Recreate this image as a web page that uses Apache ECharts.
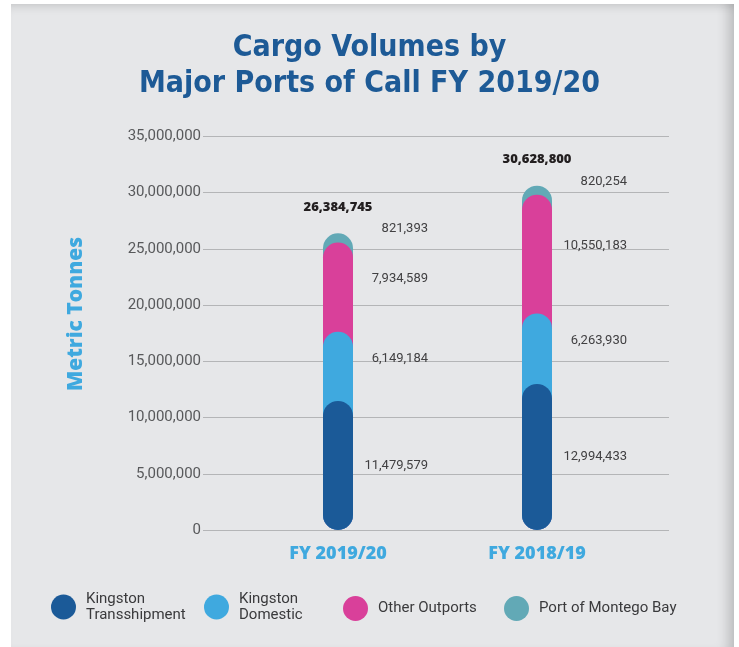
<!DOCTYPE html>
<html>
<head>
<meta charset="utf-8">
<script src="https://cdn.jsdelivr.net/npm/echarts@6/dist/echarts.min.js"></script>
<style>
  html, body { margin: 0; padding: 0; background: #ffffff; }
  #panel {
    position: absolute; left: 11px; top: 4px; width: 723px; height: 643px;
    background: #e6e7e9;
    box-shadow: inset 0 9px 8px -6px rgba(0,0,0,0.12), inset -14px 0 12px -8px rgba(0,0,0,0.18);
  }
  #chart { position: absolute; left: 0; top: 0; width: 739px; height: 647px; }
</style>
</head>
<body>
<div id="panel"></div>
<div id="chart"></div>
<script>
// categories (fiscal years)
const years = ['FY 2019/20', 'FY 2018/19'];
// cargo volumes in metric tonnes, per port group
const portNames = ['Kingston\nTransshipment', 'Kingston\nDomestic', 'Other Outports', 'Port of Montego Bay'];
const kingstonTrans = [11479579, 12994433];
const kingstonDom = [6149184, 6263930];
const otherOutports = [7934589, 10550183];
const montegoBay = [821393, 820254];
const yTicks = [0, 5000000, 10000000, 15000000, 20000000, 25000000, 30000000, 35000000];

const colors = ['#1b5a98', '#3fa9df', '#d9409a', '#62a9b6'];
const values = [kingstonTrans, kingstonDom, otherOutports, montegoBay];

// running totals, so each rounded bar starts at zero and the lower ones sit on top
const cumulative = [];
values.forEach((arr, i) => {
  cumulative.push(arr.map((v, j) => (i ? cumulative[i - 1][j] : 0) + v));
});
const totals = cumulative[cumulative.length - 1];

const fmt = n => n.toLocaleString('en-US');
const boldFont = "'Open Sans', 'Roboto', sans-serif";

const chart = echarts.init(document.getElementById('chart'), null, { renderer: 'canvas' });

let series = [];
// visible rounded bars
values.forEach((arr, i) => {
  series.push({
    name: portNames[i],
    type: 'bar',
    xAxisIndex: 1,
    yAxisIndex: 1,
    data: cumulative[i],
    barWidth: 30,
    barGap: '-100%',
    z: 10 - i,
    itemStyle: { color: colors[i], borderRadius: 15 },
    label: i === values.length - 1 ? {
      show: true,
      position: 'top',
      distance: 20,
      formatter: p => fmt(totals[p.dataIndex]),
      color: '#231f20',
      fontFamily: boldFont,
      fontWeight: 800,
      fontSize: 13
    } : { show: false },
    animation: false
  });
});
// invisible stack that only carries the segment labels
values.forEach((arr, i) => {
  series.push({
    name: 'lbl' + i,
    type: 'bar',
    xAxisIndex: 1,
    yAxisIndex: 1,
    stack: 'labels',
    data: arr,
    barWidth: 30,
    z: 1,
    itemStyle: { color: 'rgba(0,0,0,0)' },
    label: {
      show: true,
      position: 'right',
      distance: 75,
      align: 'right',
      offset: i === values.length - 1 ? [0, -9] : (i === 0 ? [0, 0] : [0, -8]),
      formatter: p => fmt(p.value),
      color: '#414042',
      fontFamily: 'Roboto',
      fontSize: 13
    },
    emphasis: { disabled: true },
    animation: false
  });
});

const legendPos = [46, 199, 338, 499];
const legends = portNames.map((n, i) => ({
  data: [n],
  left: legendPos[i],
  top: n.indexOf('\n') >= 0 ? 586 : 591,
  icon: 'circle',
  itemWidth: 25,
  itemHeight: 25,
  selectedMode: false,
  textStyle: {
    color: '#3a3a3c',
    fontFamily: 'Roboto',
    fontSize: 15,
    lineHeight: 16,
    padding: [0, 0, 0, 5]
  }
}));

const option = {
  color: colors,
  title: {
    text: 'Cargo Volumes by\nMajor Ports of Call FY 2019/20',
    left: 'center',
    top: 25,
    textStyle: {
      color: '#1d5a96',
      fontFamily: "'DejaVu Sans Condensed', 'DejaVu Sans', sans-serif",
      fontWeight: 'bold',
      fontSize: 30,
      lineHeight: 36
    }
  },
  legend: legends,
  graphic: [{
    type: 'text',
    x: 76,
    y: 314,
    rotation: Math.PI / 2,
    style: {
      text: 'Metric Tonnes',
      fill: '#3fa9df',
      font: "800 21px 'Open Sans', Roboto, sans-serif",
      align: 'center',
      verticalAlign: 'middle'
    }
  }],
  grid: [
    { left: 203, right: 70, top: 136.5, bottom: 117 },
    { left: 238.5, width: 398, top: 136.5, bottom: 117 }
  ],
  xAxis: [
    { type: 'category', gridIndex: 0, data: years, show: false },
    {
      type: 'category',
      gridIndex: 1,
      data: years,
      axisLine: { show: false },
      axisTick: { show: false },
      axisLabel: {
        margin: 15,
        color: '#3fa9df',
        fontFamily: boldFont,
        fontWeight: 800,
        fontSize: 18
      }
    }
  ],
  yAxis: [
    {
      type: 'value',
      gridIndex: 0,
      min: yTicks[0],
      max: yTicks[yTicks.length - 1],
      interval: yTicks[1] - yTicks[0],
      axisLine: { show: false },
      axisTick: { show: false },
      splitLine: { lineStyle: { color: '#b4b5b7', width: 1 } },
      axisLabel: {
        margin: 2,
        color: '#58595b',
        fontFamily: 'Roboto',
        fontSize: 15,
        formatter: v => fmt(v)
      }
    },
    {
      type: 'value',
      gridIndex: 1,
      min: yTicks[0],
      max: yTicks[yTicks.length - 1],
      interval: yTicks[1] - yTicks[0],
      show: false,
      splitLine: { show: false }
    }
  ],
  series: series
};

chart.setOption(option);
</script>
</body>
</html>
